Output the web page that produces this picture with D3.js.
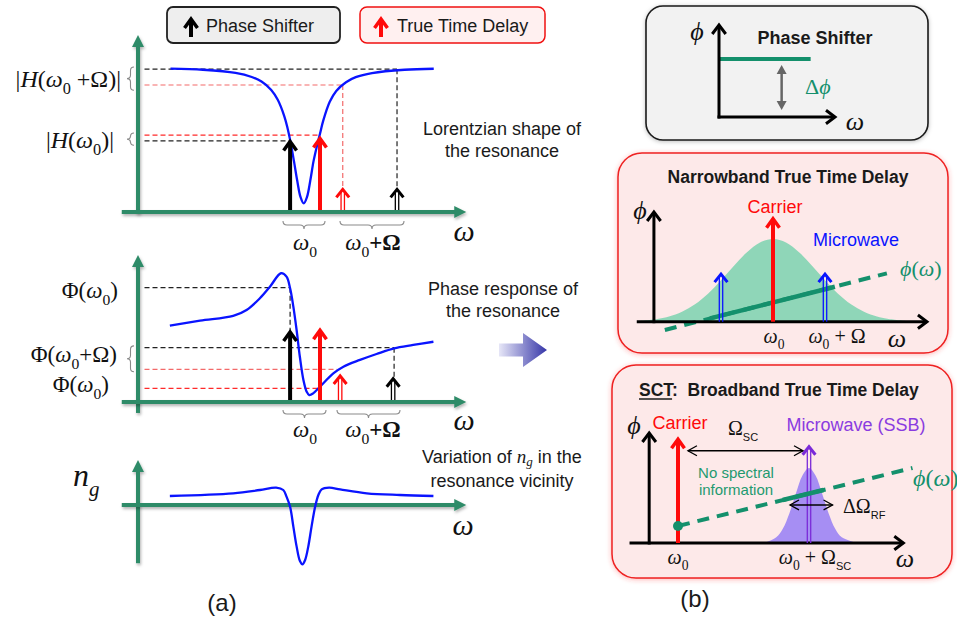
<!DOCTYPE html>
<html><head><meta charset="utf-8">
<script src="https://cdn.jsdelivr.net/npm/d3@7"></script>
<style>body{margin:0;background:#fff}svg{display:block}</style>
</head><body>
<svg id="c" width="957" height="621"></svg>
<script>
// ---------------- DATA ----------------
// (a) top: transmission |H(w)| of the resonance (x in arbitrary frequency units)
const ampFreq  = [10,20,30,35,38,41,43,45,46,47,48,49,50,51,52,53,54,55,56,57,59,61,64,67,72,82,91];
const ampValue = [0.989,0.981,0.959,0.931,0.90,0.842,0.774,0.662,0.58,0.475,0.349,0.215,0.104,0.06,0.104,0.215,0.349,0.45,0.54,0.63,0.76,0.835,0.895,0.93,0.958,0.981,0.988];
// (a) middle: phase response
const phaseFreq  = [9.8,19.1,29.3,33.4,37.5,40.6,44,45.7,46.8,47.8,48.8,49.8,50.9,51.9,52.7,53.9,56,60.1,63.2,68.3,73.4,78.8,84.7,90.9];
const phaseValue = [0.592,0.63,0.667,0.713,0.804,0.894,0.998,0.972,0.881,0.739,0.558,0.351,0.171,0.08,0.054,0.067,0.119,0.222,0.274,0.326,0.372,0.416,0.442,0.467];
// (a) bottom: group index n_g
const ngFreq  = [9.8,29.3,37.5,42.5,44.7,45.7,46.8,47.8,48.8,49.8,50.6,51.4,52.4,53.4,54.5,55.5,56.5,58.8,62.2,70.4,80.6,90.9];
const ngValue = [0.15,0.195,0.25,0.289,0.25,0.139,-0.03,-0.36,-0.69,-0.93,-0.99,-0.92,-0.69,-0.36,-0.03,0.167,0.26,0.289,0.26,0.195,0.167,0.15];
// (a) spectral lines: [phase-shifter carrier, TTD carrier, TTD sideband, PS sideband]
const lineKinds   = ["ps","ttd","ttd2","ps2"];
const lineFreqTop = [46.8,56,63,79.7];
const lineAmpTop  = [0.5,0.52,0.17,0.17];
const lineFreqMid = [46.8,56,62.2,78.5];
const lineAmpMid  = [0.558,0.571,0.217,0.196];
// dashed read-out levels
const dashTopLevel = [0.985,0.876,0.53,0.49];
const dashTopFreq  = [79.7,63,55.7,46.8];
const dashTopDrop  = [0.17,0.17,null,null];
const dashTopKind  = ["k","r2","r","k"];
const dashMidLevel = [0.886,0.421,0.253,0.106];
const dashMidFreq  = [46.8,78.8,61.2,56];
const dashMidDrop  = [0.558,0.196,null,null];
const dashMidKind  = ["k","k","r2","r"];
// (b) phase shifter
const psLineX = [0,0.79], psLineY = [0.63,0.63];
const psDeltaX = 0.54, psDeltaY = [0.076,0.565];
// (b) narrowband TTD
const nbGaussX = [-2.6,-2.2,-2,-1.75,-1.5,-1.25,-1,-0.75,-0.5,-0.25,0,0.25,0.5,0.75,1,1.25,1.5,1.75,2,2.2,2.6];
const nbGaussY = [0.005,0.035,0.0625,0.12,0.21,0.338,0.5,0.677,0.841,0.958,1,0.958,0.841,0.677,0.5,0.338,0.21,0.12,0.0625,0.035,0.005];
const nbCarrierX = 0, nbCarrierH = 1.27;
const nbMicroX = [-1,1], nbMicroH = 0.6;
const nbPhiX = [-2.08,2.19], nbPhiY = [-0.1,0.585];
const nbPhiSolidX = [-1.21,1.19], nbPhiSolidY = [0.04,0.423];
// (b) SCT broadband TTD
const scGaussX = [6.6,7.5,8,8.5,9,9.5,10,10.5,11,11.5,12,12.5,13.7];
const scGaussY = [0,0.076,0.19,0.395,0.66,0.9,1,0.9,0.66,0.395,0.19,0.076,0];
const scCarrierX = 0, scCarrierH = 1.41;
const scMicroX = 10, scMicroH = 1.31;
const scPhiX = [0,17.9], scPhiY = [0.227,1.0];
const scPhiSolidX = [8.0,11.1], scPhiSolidY = [0.573,0.706];
const scOmegaArrowX = [0.76,9.54], scOmegaArrowY = 1.23;
const scRFArrowX = [8.55,11.8], scRFArrowY = 0.507;

// ---------------- STYLE / HELPERS ----------------
const GREEN="#2e8b68", BLUE="#0a14ff", RED="#ff0a0a", TEAL="#14906c", PURPLE="#7a2ad8";
const sans="Arial,'Liberation Sans',Helvetica,sans-serif";
const serif="'Liberation Serif','Times New Roman',serif";
const svg=d3.select("#c");
const defs=svg.append("defs");
const sh=defs.append("filter").attr("id","sh").attr("x","-20%").attr("y","-50%").attr("width","140%").attr("height","200%");
sh.append("feDropShadow").attr("dx",1).attr("dy",2).attr("stdDeviation",1.5).attr("flood-color","#000").attr("flood-opacity",0.3);
const glowR=defs.append("filter").attr("id","glowR").attr("x","-10%").attr("y","-10%").attr("width","120%").attr("height","120%");
glowR.append("feDropShadow").attr("dx",0).attr("dy",1).attr("stdDeviation",2.5).attr("flood-color","#f33").attr("flood-opacity",0.35);
const glowK=defs.append("filter").attr("id","glowK").attr("x","-10%").attr("y","-10%").attr("width","120%").attr("height","120%");
glowK.append("feDropShadow").attr("dx",0).attr("dy",1).attr("stdDeviation",2).attr("flood-color","#000").attr("flood-opacity",0.25);
const grad=defs.append("linearGradient").attr("id","bgArrow").attr("x1","0").attr("x2","1").attr("y1","0").attr("y2","0");
grad.append("stop").attr("offset","0").attr("stop-color","#e6e6f7");
grad.append("stop").attr("offset","1").attr("stop-color","#3636a8");

function math(g,x,y,parts,size,anchor,color){
  const t=g.append("text").attr("x",x).attr("y",y).attr("font-family",serif).attr("font-size",size)
    .attr("text-anchor",anchor||"start").attr("fill",color||"#111");
  let shift=0;
  parts.forEach(p=>{
    const ts=t.append("tspan").text(p.t);
    const target=p.sub?size*0.3:0;
    if(target!==shift) ts.attr("dy",target-shift);
    shift=target;
    if(p.i) ts.attr("font-style","italic");
    if(p.sub) ts.attr("font-size",p.ss||size*0.68);
    if(p.f) ts.attr("font-family",p.f);
    if(p.b) ts.attr("font-weight","bold");
  });
  return t;
}
function txt(g,x,y,s,size,opt){
  opt=opt||{};
  return g.append("text").attr("x",x).attr("y",y).text(s).attr("font-family",sans).attr("font-size",size)
    .attr("text-anchor",opt.anchor||"middle").attr("fill",opt.color||"#1a1a1a").attr("font-weight",opt.bold?"bold":"normal");
}
function chev(g,x1,y1,x2,y2,color,w,h,s){
  const a=Math.atan2(y2-y1,x2-x1);
  const p1=[x2-h*Math.cos(a)+h*s*Math.sin(a), y2-h*Math.sin(a)-h*s*Math.cos(a)];
  const p2=[x2-h*Math.cos(a)-h*s*Math.sin(a), y2-h*Math.sin(a)+h*s*Math.cos(a)];
  g.append("path").attr("d",`M${p1}L${x2},${y2}L${p2}`).attr("fill","none").attr("stroke",color)
    .attr("stroke-width",w).attr("stroke-linejoin","miter").attr("stroke-miterlimit",10);
}
function openArrow(g,x1,y1,x2,y2,color,w,h,s){
  g.append("line").attr("x1",x1).attr("y1",y1).attr("x2",x2).attr("y2",y2).attr("stroke",color).attr("stroke-width",w);
  chev(g,x1,y1,x2,y2,color,w,h,s||0.7);
}
function thickArrow(g,x,yb,yt,color){
  g.append("line").attr("x1",x).attr("y1",yb).attr("x2",x).attr("y2",yt+3).attr("stroke",color).attr("stroke-width",4);
  chev(g,x,yb,x,yt+2,color,3.5,9,0.72);
}
function doubleArrow(g,x,yb,yt,color){
  [-1.7,1.7].forEach(o=>g.append("line").attr("x1",x+o).attr("y1",yb).attr("x2",x+o).attr("y2",yt+5).attr("stroke",color).attr("stroke-width",1.3));
  chev(g,x,yb,x,yt+2,color,3,8,0.8);
}
function greenAxis(g,x1,y1,x2,y2){
  const a=Math.atan2(y2-y1,x2-x1), L=12, W=6;
  const g2=g.append("g").attr("filter","url(#sh)");
  g2.append("line").attr("x1",x1).attr("y1",y1).attr("x2",x2-(L-2)*Math.cos(a)).attr("y2",y2-(L-2)*Math.sin(a))
    .attr("stroke",GREEN).attr("stroke-width",4);
  const bx=x2-L*Math.cos(a), by=y2-L*Math.sin(a);
  g2.append("path").attr("d",`M${x2},${y2}L${bx+W*Math.sin(a)},${by-W*Math.cos(a)}L${bx-W*Math.sin(a)},${by+W*Math.cos(a)}Z`).attr("fill",GREEN);
}
function vBrace(g,x,y1,y2,w){
  const m=(y1+y2)/2, h=w/2;
  g.append("path").attr("d",`M${x},${y1}Q${x-h},${y1} ${x-h},${y1+h}L${x-h},${m-h}Q${x-h},${m} ${x-w},${m}Q${x-h},${m} ${x-h},${m+h}L${x-h},${y2-h}Q${x-h},${y2} ${x},${y2}`)
    .attr("fill","none").attr("stroke","#8a8a8a").attr("stroke-width",1.1);
}
function hBrace(g,x1,x2,y,w){
  const m=(x1+x2)/2, h=w/2;
  g.append("path").attr("d",`M${x1},${y}Q${x1},${y+h} ${x1+h},${y+h}L${m-h},${y+h}Q${m},${y+h} ${m},${y+w}Q${m},${y+h} ${m+h},${y+h}L${x2-h},${y+h}Q${x2},${y+h} ${x2},${y}`)
    .attr("fill","none").attr("stroke","#8a8a8a").attr("stroke-width",1.1);
}
function dash(g,x1,y1,x2,y2,kind){
  const c = kind==="k"?"#222":(kind==="r"?"#ff2a2a":"#f36a6a");
  g.append("line").attr("x1",x1).attr("y1",y1).attr("x2",x2).attr("y2",y2).attr("stroke",c)
    .attr("stroke-width",1.2).attr("stroke-dasharray","5,3");
}
function drawLines(g,xs,ys,freqs,amps){
  lineKinds.forEach((k,i)=>{
    const x=xs(freqs[i]), yb=ys(0), yt=ys(amps[i]);
    if(k==="ps") thickArrow(g,x,yb,yt,"#000");
    else if(k==="ttd") thickArrow(g,x,yb,yt,RED);
    else if(k==="ttd2") doubleArrow(g,x,yb,yt,RED);
    else doubleArrow(g,x,yb,yt,"#000");
  });
}

// ---------------- LEGEND ----------------
const lg=svg.append("g");
lg.append("rect").attr("x",167).attr("y",7).attr("width",173).attr("height",36).attr("rx",6).attr("fill","#eeeeee").attr("stroke","#222").attr("stroke-width",1.8);
thickArrow(lg,191,37,17,"#000");
txt(lg,206,32,"Phase Shifter",18,{anchor:"start"});
lg.append("rect").attr("x",360).attr("y",7).attr("width",185).attr("height",36).attr("rx",7).attr("fill","#fff0f0").attr("stroke","#f01010").attr("stroke-width",1.5);
thickArrow(lg,381,37,17,RED);
txt(lg,397,32,"True Time Delay",18,{anchor:"start"});

// ---------------- (a) PANELS ----------------
const xa=d3.scaleLinear().domain([0,100]).range([138,463]);
const y1=d3.scaleLinear().domain([0,1]).range([212,67]);
const y2=d3.scaleLinear().domain([0,1]).range([402,273]);
const y3=d3.scaleLinear().domain([0,1]).range([505,445]);

// panel 1
const p1=svg.append("g");
dashTopLevel.forEach((lv,i)=>{
  dash(p1,xa(2),y1(lv),xa(dashTopFreq[i]),y1(lv),dashTopKind[i]);
  if(dashTopDrop[i]!==null) dash(p1,xa(dashTopFreq[i]),y1(lv),xa(dashTopFreq[i]),y1(dashTopDrop[i])+2,dashTopKind[i]);
});
p1.append("path").datum(d3.zip(ampFreq,ampValue))
  .attr("d",d3.line().x(d=>xa(d[0])).y(d=>y1(d[1])).curve(d3.curveCatmullRom.alpha(0.5)))
  .attr("fill","none").attr("stroke",BLUE).attr("stroke-width",2.3);
drawLines(p1,xa,y1,lineFreqTop,lineAmpTop);
greenAxis(p1,xa(0),y1(-0.01),xa(0),y1(1.22));
greenAxis(p1,xa(-5),y1(0),xa(101),y1(0));
vBrace(p1,134,y1(1.0),y1(0.84),7);
vBrace(p1,134,y1(0.545),y1(0.46),7);
math(p1,121,87,[{t:"|"},{t:"H",i:1},{t:"("},{t:"ω",i:1},{t:"0",sub:1},{t:" +Ω)|"}],24,"end");
math(p1,114,148,[{t:"|"},{t:"H",i:1},{t:"("},{t:"ω",i:1},{t:"0",sub:1},{t:")|"}],24,"end");
hBrace(p1,283,325,221,8);
hBrace(p1,340,404,221,8);
math(p1,305,250,[{t:"ω",i:1},{t:"0",sub:1}],23,"middle");
math(p1,373,250,[{t:"ω",i:1},{t:"0",sub:1},{t:"+Ω",b:1}],23,"middle");
math(p1,464,241,[{t:"ω",i:1}],30,"middle");
txt(p1,502,135,"Lorentzian shape of",18);
txt(p1,502,157,"the resonance",18);

// panel 2
const p2=svg.append("g");
dashMidLevel.forEach((lv,i)=>{
  dash(p2,xa(2),y2(lv),xa(dashMidFreq[i]),y2(lv),dashMidKind[i]);
  if(dashMidDrop[i]!==null) dash(p2,xa(dashMidFreq[i]),y2(lv),xa(dashMidFreq[i]),y2(dashMidDrop[i])+2,dashMidKind[i]);
});
p2.append("path").datum(d3.zip(phaseFreq,phaseValue))
  .attr("d",d3.line().x(d=>xa(d[0])).y(d=>y2(d[1])).curve(d3.curveCatmullRom.alpha(0.5)))
  .attr("fill","none").attr("stroke",BLUE).attr("stroke-width",2.3);
drawLines(p2,xa,y2,lineFreqMid,lineAmpMid);
greenAxis(p2,xa(0),y2(-0.085),xa(0),y2(1.14));
greenAxis(p2,xa(-5),y2(0),xa(101),y2(0));
vBrace(p2,134,y2(0.435),y2(0.235),7);
math(p2,118,298,[{t:"Φ("},{t:"ω",i:1},{t:"0",sub:1},{t:")"}],23,"end");
math(p2,117,362,[{t:"Φ("},{t:"ω",i:1},{t:"0",sub:1},{t:"+Ω)"}],23,"end");
math(p2,109,392,[{t:"Φ("},{t:"ω",i:1},{t:"0",sub:1},{t:")"}],23,"end");
hBrace(p2,283,326,410,8);
hBrace(p2,337,400,410,8);
math(p2,305,437,[{t:"ω",i:1},{t:"0",sub:1}],23,"middle");
math(p2,373,437,[{t:"ω",i:1},{t:"0",sub:1},{t:"+Ω",b:1}],23,"middle");
math(p2,464,430,[{t:"ω",i:1}],30,"middle");
txt(p2,503,295,"Phase response of",18);
txt(p2,503,317,"the resonance",18);

// gradient arrow
svg.append("path").attr("d","M499,343.5L523,343.5L523,333L547,350L523,367L523,356.5L499,356.5Z").attr("fill","url(#bgArrow)");

// panel 3
const p3=svg.append("g");
greenAxis(p3,xa(0),y3(-0.97),xa(0),y3(0.75));
greenAxis(p3,xa(-5),y3(0),xa(101),y3(0));
p3.append("path").datum(d3.zip(ngFreq,ngValue))
  .attr("d",d3.line().x(d=>xa(d[0])).y(d=>y3(d[1])).curve(d3.curveCatmullRom.alpha(0.5)))
  .attr("fill","none").attr("stroke",BLUE).attr("stroke-width",2.3);
math(p3,73,486,[{t:"n",i:1},{t:"g",i:1,sub:1,ss:21}],32,"start");
math(p3,463,535,[{t:"ω",i:1}],30,"middle");
const vt=p3.append("text").attr("x",502).attr("y",463).attr("text-anchor","middle").attr("font-family",sans).attr("font-size",18).attr("fill","#1a1a1a");
vt.append("tspan").text("Variation of ");
vt.append("tspan").text("n").attr("font-family",serif).attr("font-style","italic").attr("font-size",19);
vt.append("tspan").text("g").attr("font-family",serif).attr("font-style","italic").attr("font-size",13).attr("dy",3);
vt.append("tspan").text(" in the").attr("dy",-3);
txt(p3,502,487,"resonance vicinity",18);
txt(svg,222,611,"(a)",24);

// ---------------- (b) PHASE SHIFTER ----------------
const b1=svg.append("g");
b1.append("rect").attr("x",646).attr("y",6).attr("width",282).attr("height",134).attr("rx",17).attr("fill","#f2f2f2").attr("stroke","#1a1a1a").attr("stroke-width",1.6).attr("filter","url(#glowK)");
const psx=d3.scaleLinear().domain([0,1]).range([719,835]);
const psy=d3.scaleLinear().domain([0,1]).range([117,25]);
b1.append("path").datum(d3.zip(psLineX,psLineY)).attr("d",d3.line().x(d=>psx(d[0])).y(d=>psy(d[1])))
  .attr("stroke",TEAL).attr("stroke-width",4).attr("fill","none");
openArrow(b1,psx(0),psy(0)+1.5,psx(0),psy(1),"#000",3,9,0.75);
openArrow(b1,psx(0)-1.5,psy(0),psx(1),psy(0),"#000",3,9,0.75);
{
  const x=psx(psDeltaX), ya=psy(psDeltaY[0]), yb=psy(psDeltaY[1]);
  b1.append("line").attr("x1",x).attr("y1",ya-6).attr("x2",x).attr("y2",yb+6).attr("stroke","#666").attr("stroke-width",2.5);
  b1.append("path").attr("d",`M${x},${yb}L${x-5},${yb+9}L${x+5},${yb+9}Z M${x},${ya}L${x-5},${ya-9}L${x+5},${ya-9}Z`).attr("fill","#666");
}
math(b1,697,40,[{t:"ϕ",i:1}],26,"middle");
math(b1,855,130,[{t:"ω",i:1}],26,"middle");
math(b1,805,94,[{t:"Δ"},{t:"ϕ",i:1}],22,"start",TEAL);
txt(b1,815,44,"Phase Shifter",18,{bold:1});

// ---------------- (b) NARROWBAND TTD ----------------
const b2=svg.append("g");
b2.append("rect").attr("x",618).attr("y",153).attr("width",330).attr("height",200).attr("rx",24).attr("fill","#fde9e9").attr("stroke","#ee2020").attr("stroke-width",1.5).attr("filter","url(#glowR)");
const nbx=d3.scaleLinear().domain([0,1]).range([773,825]);
const nby=d3.scaleLinear().domain([0,1]).range([321.7,239]);
b2.append("path").datum(d3.zip(nbGaussX,nbGaussY))
  .attr("d",d3.area().x(d=>nbx(d[0])).y0(nby(0)).y1(d=>nby(d[1])).curve(d3.curveCatmullRom.alpha(0.5)))
  .attr("fill","#8fd6b8");
b2.append("path").datum(d3.zip(nbPhiX,nbPhiY)).attr("d",d3.line().x(d=>nbx(d[0])).y(d=>nby(d[1])))
  .attr("stroke",TEAL).attr("stroke-width",4).attr("stroke-dasharray","12,8").attr("fill","none");
b2.append("path").datum(d3.zip(nbPhiSolidX,nbPhiSolidY)).attr("d",d3.line().x(d=>nbx(d[0])).y(d=>nby(d[1])))
  .attr("stroke",TEAL).attr("stroke-width",4.5).attr("fill","none");
openArrow(b2,nbx(-2.29),nby(0)+1.5,nbx(-2.29),212,"#000",3,9,0.75);
openArrow(b2,nbx(-2.62),nby(0),nbx(2.96),nby(0),"#000",3,9,0.75);
thickArrow(b2,nbx(nbCarrierX),nby(0),nby(nbCarrierH),RED);
nbMicroX.forEach(m=>doubleArrow(b2,nbx(m),nby(0),nby(nbMicroH),BLUE));
txt(b2,788,183,"Narrowband True Time Delay",17.5,{bold:1});
txt(b2,775,213,"Carrier",18,{color:RED});
txt(b2,856,246,"Microwave",18,{color:BLUE});
math(b2,640,219,[{t:"ϕ",i:1}],26,"middle");
math(b2,900,276,[{t:"ϕ",i:1},{t:"("},{t:"ω",i:1},{t:")"}],22,"start",TEAL);
math(b2,774,343,[{t:"ω",i:1},{t:"0",sub:1}],20,"middle");
math(b2,837,343,[{t:"ω",i:1},{t:"0",sub:1},{t:" + Ω"}],20,"middle");
math(b2,897,347,[{t:"ω",i:1}],26,"middle");

// ---------------- (b) SCT ----------------
const b3=svg.append("g");
b3.append("rect").attr("x",612).attr("y",365).attr("width",340).attr("height",213).attr("rx",24).attr("fill","#fde9e9").attr("stroke","#ee2020").attr("stroke-width",1.5).attr("filter","url(#glowR)");
const scx=d3.scaleLinear().domain([0,10]).range([678,809]);
const scy=d3.scaleLinear().domain([0,1]).range([543,468]);
b3.append("path").datum(d3.zip(scGaussX,scGaussY))
  .attr("d",d3.area().x(d=>scx(d[0])).y0(scy(0)).y1(d=>scy(d[1])).curve(d3.curveCatmullRom.alpha(0.5)))
  .attr("fill","#a68ef3");
openArrow(b3,scx(-2.2),scy(0)+1.5,scx(-2.2),433,"#000",3,9,0.75);
openArrow(b3,scx(-3.7),scy(0),scx(17.2),scy(0),"#000",3,9,0.75);
thickArrow(b3,scx(scCarrierX),scy(0),scy(scCarrierH),RED);
doubleArrow(b3,scx(scMicroX),scy(0),scy(scMicroH),PURPLE);
b3.append("path").datum(d3.zip(scPhiX,scPhiY)).attr("d",d3.line().x(d=>scx(d[0])).y(d=>scy(d[1])))
  .attr("stroke",TEAL).attr("stroke-width",4).attr("stroke-dasharray","12,8").attr("fill","none");
b3.append("path").datum(d3.zip(scPhiSolidX,scPhiSolidY)).attr("d",d3.line().x(d=>scx(d[0])).y(d=>scy(d[1])))
  .attr("stroke",TEAL).attr("stroke-width",4.5).attr("fill","none");
b3.append("circle").attr("cx",scx(scPhiX[0])).attr("cy",scy(scPhiY[0])).attr("r",5).attr("fill",TEAL);
{
  const ya=scy(scOmegaArrowY), xa1=scx(scOmegaArrowX[0]), xa2=scx(scOmegaArrowX[1]);
  openArrow(b3,xa1,ya,xa2,ya,"#000",1.3,9,0.55); chev(b3,xa2,ya,xa1,ya,"#000",1.3,9,0.55);
  const yr=scy(scRFArrowY), xr1=scx(scRFArrowX[0]), xr2=scx(scRFArrowX[1]);
  openArrow(b3,xr1,yr,xr2,yr,"#000",1.3,9,0.55); chev(b3,xr2,yr,xr1,yr,"#000",1.3,9,0.55);
}
const st=b3.append("text").attr("x",639).attr("y",396).attr("font-family",sans).attr("font-size",17.5).attr("font-weight","bold").attr("fill","#1a1a1a");
const sct=st.append("tspan").text("SCT");
st.append("tspan").text(":\u00a0\u00a0Broadband True Time Delay");
const sctLen=sct.node().getComputedTextLength();
b3.append("line").attr("x1",639).attr("x2",639+sctLen).attr("y1",399).attr("y2",399).attr("stroke","#1a1a1a").attr("stroke-width",1.4);
txt(b3,680,429,"Carrier",18,{color:RED});
txt(b3,856,431,"Microwave (SSB)",18,{color:"#8a3be0"});
math(b3,634,434,[{t:"ϕ",i:1}],26,"middle");
math(b3,743,435,[{t:"Ω"},{t:"SC",sub:1,f:sans,ss:11}],20,"middle");
txt(b3,736,478,"No spectral",15,{color:"#1f9a70"});
txt(b3,736,495,"information",15,{color:"#1f9a70"});
math(b3,843,513,[{t:"ΔΩ"},{t:"RF",sub:1,f:sans,ss:11}],20,"start");
math(b3,913,486,[{t:"ϕ",i:1},{t:"("},{t:"ω",i:1},{t:")"}],24,"start",TEAL);
math(b3,678,564,[{t:"ω",i:1},{t:"0",sub:1}],20,"middle");
math(b3,815,564,[{t:"ω",i:1},{t:"0",sub:1},{t:" + Ω"},{t:"SC",sub:1,f:sans,ss:11}],20,"middle");
math(b3,905,567,[{t:"ω",i:1}],26,"middle");
txt(svg,695,607,"(b)",24);
</script>
</body></html>
